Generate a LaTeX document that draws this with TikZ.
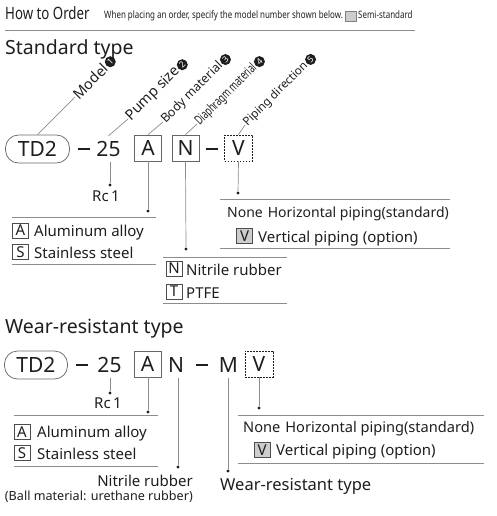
\documentclass[tikz,border=0pt]{standalone}
\usepackage{fontspec}
\setmainfont{Noto Sans}
\newfontfamily\narrowfont[FakeStretch=0.78]{Noto Sans}
\newfontfamily\thinfont[FakeStretch=0.66]{Noto Sans}
\usetikzlibrary{positioning,calc}
\definecolor{leadgray}{RGB}{140,140,140}
\definecolor{keygray}{RGB}{205,205,205}
\definecolor{inkblack}{RGB}{30,30,30}
\newcommand{\fs}[1]{\fontsize{#1}{#1}\selectfont}
\newcommand{\codedash}{\vphantom{2}\rule[6.9pt]{12pt}{1.3pt}}

\begin{document}
\begin{tikzpicture}[x=1pt, y=-1pt,
  code/.style={font=\fs{21}, inner sep=0pt, text=inkblack, minimum height=26pt},
  codebox/.style={code, draw=black!60, line width=0.8pt, minimum width=27pt},
  optbox/.style={code, draw=inkblack, line width=0.8pt, minimum width=28pt, dash pattern=on 1.6pt off 1.4pt},
  modelbox/.style={code, draw=black!60, line width=0.7pt, rounded corners=13pt, minimum width=64pt, minimum height=28pt},
  lbl/.style={font=\fs{#1}, inner sep=0.5pt, rotate=45, anchor=west, text=inkblack},
  lbl/.default=13,
  num/.style={circle, fill=inkblack, text=white, font=\fs{8.5}\bfseries, inner sep=0pt, minimum size=11pt, rotate=45, anchor=west},
  lead/.style={draw=leadgray, line width=0.7pt},
  dot/.style={circle, fill=inkblack, inner sep=0pt, minimum size=3.4pt},
  txt/.style={font=\fs{15}, inner sep=0pt, text=inkblack, anchor=base west},
  key/.style={draw=black!70, line width=0.6pt, font=\fs{15}, inner sep=0pt, minimum width=16pt, minimum height=15pt, text=inkblack},
  semikey/.style={key, fill=keygray},
  rule/.style={draw=leadgray, line width=0.8pt}
]
\useasboundingbox (0,0) rectangle (496,516);

% header
\node[font=\narrowfont\fs{17}, inner sep=0pt, anchor=base west, text=inkblack] (howto) at (5,20) {How to Order};
\node[font=\narrowfont\fs{10.2}, inner sep=0pt, anchor=base west, text=inkblack] (hint) at (104,19) {When placing an order, specify the model number shown below.};
\node[draw=black!50, fill=keygray, inner sep=0pt, minimum width=11pt, minimum height=10pt] (semi) at (350.5,16) {};
\node[font=\narrowfont\fs{10.2}, inner sep=0pt, anchor=base west, text=inkblack] (semitxt) at (358,19) {Semi-standard};
\draw[rule] (5,30) -- (415,30);

% standard type
\node[font=\fs{19.5}, inner sep=0pt, anchor=base west, text=inkblack] (stdtitle) at (5,54.5) {Standard type};

\node[modelbox] (td2) at (37.5,149) {TD2};
\node[code] (dash1) at (84,149) {\codedash};
\node[code] (n25) at (108.5,149) {25};
\node[codebox] (boxA) at (148,148) {A};
\node[codebox] (boxN) at (185.5,148) {N};
\node[code] (dash2) at (211.5,149) {\codedash};
\node[optbox] (boxV) at (238.5,148) {V};

\coordinate (cm1) at (75,97);
\coordinate (cm2) at (128,119);
\coordinate (cm3) at (163,122);
\coordinate (cm4) at (197,124);
\coordinate (cm5) at (245,125);
\draw[lead] (td2.north) -- (cm1);
\draw[lead] (n25.north) -- (cm2);
\draw[lead] (boxA.north) -- (cm3);
\draw[lead] (boxN.north) -- (cm4);
\draw[lead] (boxV.north) -- (cm5);
\node[lbl=14.5] (lmodel) at (cm1) {Model};
\node[lbl=14.5] (lsize) at (cm2) {Pump size};
\node[lbl=12.4] (lbody) at (cm3) {Body material};
\node[lbl, font=\thinfont\fs{13}] (ldia) at (cm4) {Diaphragm material};
\node[lbl=11.6] (lpipe) at (cm5) {Piping direction};
\node[num] (c1) at (lmodel.east) {1};
\node[num] (c2) at (lsize.east) {2};
\node[num] (c3) at (lbody.east) {3};
\node[num] (c4) at (ldia.east) {4};
\node[num] (c5) at (lpipe.east) {5};

\node[dot] (d25) at (110,185) {};
\node[dot] (dA) at (148,211) {};
\node[dot] (dN) at (186,249) {};
\node[dot] (dV) at (238,193) {};
\draw[lead] (d25 |- n25.south) -- (d25);
\draw[lead] (boxA.south) -- (dA);
\draw[lead] (boxN.south) -- (dN);
\draw[lead] (boxV.south) -- (dV);

\node[txt] (rc) at (92,201.5) {Rc\kern2.5pt1};

\draw[rule] (12,217) -- (156,217);
\node[key] (kA) at (20.5,230.5) {A};
\node[txt] (tA) at (34,236.5) {Aluminum alloy};
\node[key] (kS) at (20.5,252) {S};
\node[txt] (tS) at (34,258.5) {Stainless steel};
\draw[rule] (12,264) -- (156,264);

\draw[rule] (163,257) -- (287,257);
\node[key] (kN) at (174,268.5) {N};
\node[txt] (tN) at (186,275) {Nitrile rubber};
\node[key] (kT) at (174,291.5) {T};
\node[txt] (tT) at (186,298) {PTFE};
\draw[rule] (163,303) -- (287,303);

\draw[rule] (220,199) -- (450,199);
\node[txt, font=\fs{14}] (tnone) at (227,217) {None\hspace{5pt}Horizontal piping(standard)};
\node[semikey] (kV) at (244.5,236) {V};
\node[txt] (tV) at (258,242) {Vertical piping (option)};
\draw[rule] (220,248) -- (450,248);

% wear-resistant type
\node[font=\fs{19.5}, inner sep=0pt, anchor=base west, text=inkblack] (weartitle) at (5,333.5) {Wear-resistant type};

\node[modelbox, minimum width=63pt] (td2b) at (36,365) {TD2};
\node[code] (dash3) at (82,365) {\codedash};
\node[code] (n25b) at (109.5,365) {25};
\node[codebox] (boxAb) at (147.5,364) {A};
\node[code] (nb) at (176,365) {N};
\node[code] (dash4) at (202,365) {\codedash};
\node[code] (mb) at (228.5,365) {M};
\node[optbox] (boxVb) at (259,364) {V};

\node[dot] (d25b) at (110,393) {};
\node[dot] (dAb) at (148,412) {};
\node[dot] (dNb) at (178,467) {};
\node[dot] (dMb) at (228,471) {};
\node[dot] (dVb) at (259,408) {};
\draw[lead] (d25b |- n25b.south) -- (d25b);
\draw[lead] (dAb |- boxAb.south) -- (dAb);
\draw[lead] (dNb |- nb.south) -- (dNb);
\draw[lead] (dMb |- mb.south) -- (dMb);
\draw[lead] (boxVb.south) -- (dVb);

\node[txt] (rcb) at (94,408) {Rc\kern2.5pt1};

\draw[rule] (14,415) -- (158,415);
\node[key] (kAb) at (22,432) {A};
\node[txt] (tAb) at (37,437) {Aluminum alloy};
\node[key] (kSb) at (22,453) {S};
\node[txt] (tSb) at (37,459) {Stainless steel};
\draw[rule] (14,466) -- (158,466);

\node[txt, anchor=base east] (tNb) at (193,486) {Nitrile rubber};
\node[txt, anchor=base east, font=\fs{12.6}] (tball) at (193,500) {(Ball material: urethane rubber)};
\node[txt, font=\fs{16.5}] (tMb) at (220,490) {Wear-resistant type};

\draw[rule] (238,415) -- (484,415);
\node[txt, font=\fs{14.6}] (tnoneb) at (243,432) {None\hspace{5pt}Horizontal piping(standard)};
\node[semikey] (kVb) at (262,450) {V};
\node[txt] (tVb) at (276,455) {Vertical piping (option)};
\draw[rule] (238,463) -- (484,463);
\end{tikzpicture}
\end{document}
